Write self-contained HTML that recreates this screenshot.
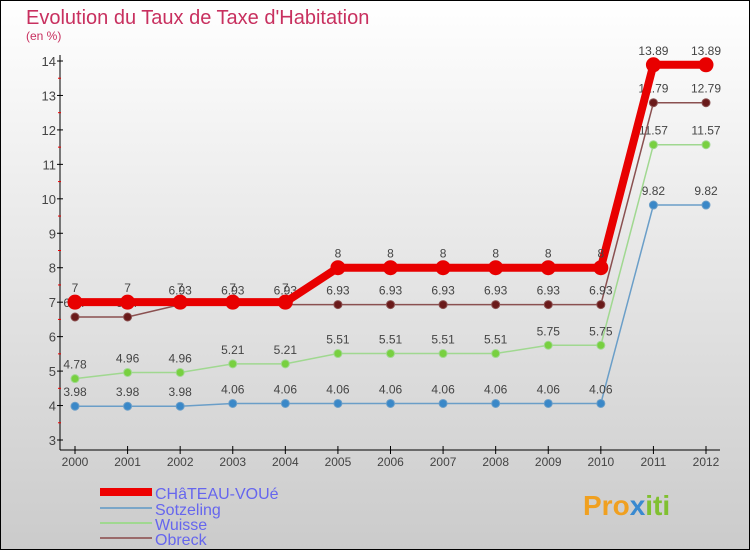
<!DOCTYPE html>
<html><head><meta charset="utf-8"><style>
body{margin:0}
svg text{font-family:"Liberation Sans",sans-serif}
</style></head><body>
<svg id="c" width="750" height="550" xmlns="http://www.w3.org/2000/svg">
<defs><linearGradient id="bg" x1="0" y1="0" x2="0" y2="1"><stop offset="0" stop-color="#ffffff"/><stop offset="1" stop-color="#cbcbcb"/></linearGradient></defs>
<rect x="0.5" y="0.5" width="749" height="549" fill="url(#bg)" stroke="#000"/>
<text x="26" y="24" font-size="20" fill="#c8305f">Evolution du Taux de Taxe d'Habitation</text>
<text x="26" y="40" font-size="12" fill="#c8305f">(en %)</text>
<g id="axes"></g><g id="series"></g>
<g>
<rect x="100" y="488" width="52" height="8" fill="#e00"/>
<text x="155" y="499" font-size="16" fill="#6666ee">CHâTEAU-VOUé</text>
<rect x="100" y="507" width="52" height="2" fill="#7aa6c8"/>
<text x="155" y="515" font-size="16" fill="#6666ee">Sotzeling</text>
<rect x="100" y="522" width="52" height="2" fill="#a0d890"/>
<text x="155" y="530" font-size="16" fill="#6666ee">Wuisse</text>
<rect x="100" y="537" width="52" height="2" fill="#9a6a6a"/>
<text x="155" y="545" font-size="16" fill="#6666ee">Obreck</text>
</g>
<text x="583" y="515" font-size="28" font-weight="bold" fill="#f0a020">Pro<tspan fill="#3a8ad0">x</tspan><tspan fill="#80c030">iti</tspan></text>
</svg>
<script>
const years=[2000,2001,2002,2003,2004,2005,2006,2007,2008,2009,2010,2011,2012];
const yTicks=[3,4,5,6,7,8,9,10,11,12,13,14];
const chateau=[7,7,7,7,7,8,8,8,8,8,8,13.89,13.89];
const sotzeling=[3.98,3.98,3.98,4.06,4.06,4.06,4.06,4.06,4.06,4.06,4.06,9.82,9.82];
const wuisse=[4.78,4.96,4.96,5.21,5.21,5.51,5.51,5.51,5.51,5.75,5.75,11.57,11.57];
const obreck=[6.57,6.57,6.93,6.93,6.93,6.93,6.93,6.93,6.93,6.93,6.93,12.79,12.79];
const NS='http://www.w3.org/2000/svg';
const xs=i=>75+i*(706-75)/(years.length-1);
const ys=v=>440-(v-3)*(440-61)/11;
function mk(t,a,p){const e=document.createElementNS(NS,t);for(const k in a)e.setAttribute(k,a[k]);p.appendChild(e);return e;}
const ax=document.getElementById('axes');
let e=mk('line',{x1:60,y1:55,x2:60,y2:450,stroke:'#000'},ax);


e=mk('line',{x1:60,y1:450,x2:720,y2:450,stroke:'#000'},ax);


yTicks.forEach(v=>{
  mk('line',{x1:57,x2:63,y1:ys(v),y2:ys(v),stroke:'#000'},ax);
  if(v<14) mk('line',{x1:58,x2:61,y1:ys(v+0.5),y2:ys(v+0.5),stroke:'#e00'},ax);
  const t=mk('text',{x:56,y:ys(v)+5,'font-size':13,'text-anchor':'end',fill:'#444'},ax);t.textContent=v;
  
  
});
years.forEach((y,i)=>{
  mk('line',{x1:xs(i),x2:xs(i),y1:446,y2:454,stroke:'#000'},ax);
  const t=mk('text',{x:xs(i),y:466,'font-size':12,'text-anchor':'middle',fill:'#444'},ax);t.textContent=y;
  
  
});
const sg=document.getElementById('series');
function series(vals,color,dot,w,r,name){
  const g=mk('g',{},sg);
  
  
  mk('polyline',{points:vals.map((v,i)=>xs(i)+','+ys(v)).join(' '),fill:'none',stroke:color,'stroke-width':w},g);
  vals.forEach((v,i)=>{
    const c=mk('circle',{cx:xs(i),cy:ys(v),r:r,fill:dot,stroke:color},g);
    
    
    const t=mk('text',{x:xs(i),y:ys(v)-10,'font-size':12,'text-anchor':'middle',fill:'#444'},g);
    t.textContent=String(v);
    
    
  });
}
series(sotzeling,'#6a9ec8','#3a88c8',1.5,4,'sotzeling');
series(wuisse,'#a0d890','#78d040',1.5,4,'wuisse');
series(obreck,'#8a5050','#6a1a1a',1.5,4,'obreck');
series(chateau,'#e80000','#e80000',8,7,'chateau');
</script>
</body></html>
